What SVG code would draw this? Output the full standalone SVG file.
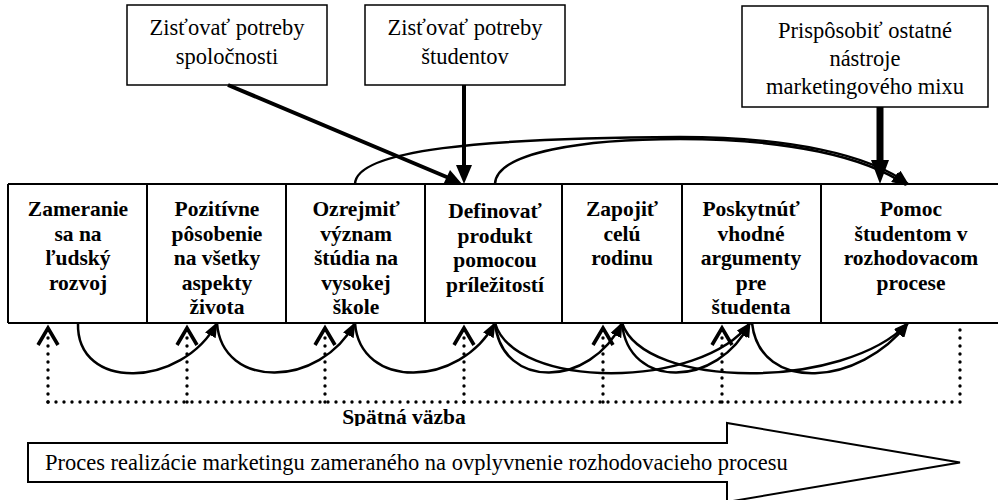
<svg xmlns="http://www.w3.org/2000/svg" width="998" height="500" viewBox="0 0 998 500">
  <defs>
    <style>
      .frame { fill: #fff; stroke: #000; stroke-width: 1.5; }
      .grid { fill: none; stroke: #000; stroke-width: 2; }
      .lbl { font-family: "Liberation Serif", "Times New Roman", serif; font-size: 22.5px; fill: #000; text-anchor: middle; }
      .step { font-family: "Liberation Serif", "Times New Roman", serif; font-size: 21.5px; font-weight: bold; fill: #000; text-anchor: middle; }
      .flow { fill: none; stroke: #000; stroke-width: 2.5; marker-end: url(#tip); }
      .dots { fill: none; stroke: #000; stroke-width: 3.4; stroke-linecap: round; stroke-dasharray: 0 8; }
      .chev { fill: none; stroke: #000; stroke-width: 3.6; stroke-linejoin: miter; }
    </style>
    <marker id="tip" markerUnits="userSpaceOnUse" markerWidth="15" markerHeight="12" refX="14" refY="6" orient="auto">
      <path d="M0,0 L15,6 L0,12 z" fill="#000"/>
    </marker>
    <clipPath id="fbClip">
      <rect x="300" y="400" width="220" height="26"/>
    </clipPath>
  </defs>

  <rect width="998" height="500" fill="#fff"/>

  <!-- process arrow -->
  <g id="process">
    <path d="M28,443 L727,443 L727,423 L960,462.5 L727,502 L727,482 L28,482 Z" fill="#fff" stroke="#000" stroke-width="2"/>
    <text class="lbl" x="45" y="470" style="text-anchor:start">Proces realizácie marketingu zameraného na ovplyvnenie rozhodovacieho procesu</text>
  </g>

  <!-- top input boxes -->
  <g id="needs-society">
    <rect class="frame" x="127" y="5" width="200" height="80"/>
    <text class="lbl" x="227" y="35">Zisťovať potreby</text>
    <text class="lbl" x="227" y="64">spoločnosti</text>
  </g>
  <g id="needs-students">
    <rect class="frame" x="365" y="5" width="200" height="80"/>
    <text class="lbl" x="465" y="35">Zisťovať potreby</text>
    <text class="lbl" x="465" y="64">študentov</text>
  </g>
  <g id="adjust-mix">
    <rect class="frame" x="742" y="6" width="246" height="101"/>
    <text class="lbl" x="865" y="38">Prispôsobiť ostatné</text>
    <text class="lbl" x="865" y="66">nástroje</text>
    <text class="lbl" x="865" y="94">marketingového mixu</text>
  </g>

  <!-- main process row -->
  <g id="row-frame">
    <path class="grid" d="M8,184 H998 M8,323 H998 M8,184 V323 M147,184 V323 M286,184 V323 M425,184 V323 M562,184 V323 M682,184 V323 M821,184 V323"/>
  </g>
  <g id="step1">
    <text class="step" x="78" y="216">Zameranie</text>
    <text class="step" x="78" y="240.5">sa na</text>
    <text class="step" x="78" y="265">ľudský</text>
    <text class="step" x="78" y="289.5">rozvoj</text>
  </g>
  <g id="step2">
    <text class="step" x="217" y="216">Pozitívne</text>
    <text class="step" x="217" y="240.5">pôsobenie</text>
    <text class="step" x="217" y="265">na všetky</text>
    <text class="step" x="217" y="289.5">aspekty</text>
    <text class="step" x="217" y="314">života</text>
  </g>
  <g id="step3">
    <text class="step" x="356" y="216">Ozrejmiť</text>
    <text class="step" x="356" y="240.5">význam</text>
    <text class="step" x="356" y="265">štúdia na</text>
    <text class="step" x="356" y="289.5">vysokej</text>
    <text class="step" x="356" y="314">škole</text>
  </g>
  <g id="step4">
    <text class="step" x="495" y="218">Definovať</text>
    <text class="step" x="495" y="242.5">produkt</text>
    <text class="step" x="495" y="267">pomocou</text>
    <text class="step" x="495" y="291.5">príležitostí</text>
  </g>
  <g id="step5">
    <text class="step" x="622" y="216">Zapojiť</text>
    <text class="step" x="622" y="240.5">celú</text>
    <text class="step" x="622" y="265">rodinu</text>
  </g>
  <g id="step6">
    <text class="step" x="751" y="216">Poskytnúť</text>
    <text class="step" x="751" y="240.5">vhodné</text>
    <text class="step" x="751" y="265">argumenty</text>
    <text class="step" x="751" y="289.5">pre</text>
    <text class="step" x="751" y="314">študenta</text>
  </g>
  <g id="step7">
    <text class="step" x="911" y="216">Pomoc</text>
    <text class="step" x="911" y="240.5">študentom v</text>
    <text class="step" x="911" y="265">rozhodovacom</text>
    <text class="step" x="911" y="289.5">procese</text>
  </g>

  <!-- feedback label -->
  <g id="feedback-label" clip-path="url(#fbClip)">
    <text class="step" x="404" y="424">Spätná väzba</text>
  </g>

  <g id="connectors">
    <!-- inputs from the top boxes -->
    <line x1="228" y1="85" x2="449" y2="178" stroke="#000" stroke-width="4"/>
    <path d="M462,184 L443,185 L450,170 Z" fill="#000"/>
    <line x1="464" y1="85" x2="464" y2="166" stroke="#000" stroke-width="4"/>
    <path d="M456,165 L472,165 L464,184 Z" fill="#000"/>
    <line x1="880" y1="107" x2="880" y2="162" stroke="#000" stroke-width="7"/>
    <path d="M871,160 L889,160 L880,184 Z" fill="#000"/>

    <!-- arcs over the row -->
    <path class="flow" d="M355,184 C356,150 480,138 680,137 C790,137 870,155 908,184"/>
    <path class="flow" d="M495,184 C496,152 585,139 680,139 C788,139 866,157 906,185"/>

    <!-- arcs under the row -->
    <path class="flow" d="M78,323 C76,392 182,388 217,323"/>
    <path class="flow" d="M217,323 C222,390 320,388 355,323"/>
    <path class="flow" d="M355,323 C360,390 460,388 495,323"/>
    <path class="flow" d="M495,323 C502,390 590,388 622,323"/>
    <path class="flow" d="M495,323 C515,390 700,390 750,323"/>
    <path class="flow" d="M622,323 C628,390 718,388 750,323"/>
    <path class="flow" d="M622,323 C645,390 845,390 908,323"/>
    <path class="flow" d="M752,323 C760,394 860,386 908,323"/>

    <!-- feedback lines -->
    <path class="dots" d="M48,402 H960 V323"/>
    <path class="dots" d="M48,402 V336 M187,402 V336 M325,402 V336 M464,402 V336 M603,402 V336 M722,402 V336"/>
    <path class="chev" d="M38,345 L48,328 L58,345 M177,345 L187,328 L197,345 M315,345 L325,328 L335,345 M454,345 L464,328 L474,345 M593,345 L603,328 L613,345 M712,345 L722,328 L732,345"/>
  </g>
</svg>
